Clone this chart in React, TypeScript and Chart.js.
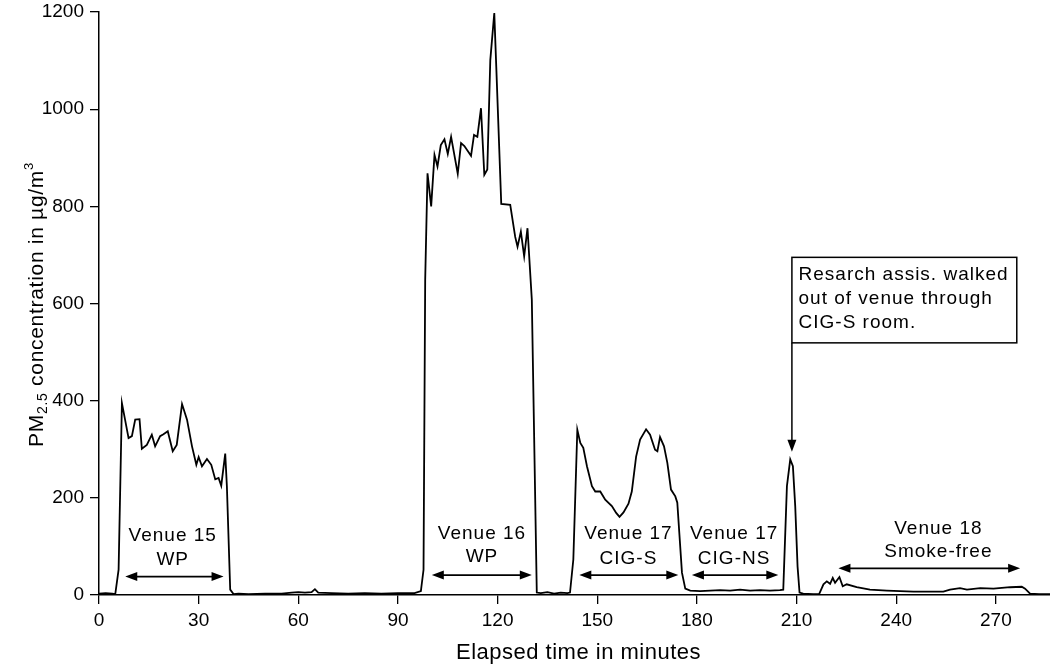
import React, { useEffect, useRef } from "react";
import { Chart, registerables } from "chart.js";

Chart.register(...registerables);

// ---------- axis ticks ----------
const xTickValues = [0, 30, 60, 90, 120, 150, 180, 210, 240, 270];
const yTickValues = [0, 200, 400, 600, 800, 1000, 1200];
const X_MAX = 286.3;
const Y_MAX = 1200;

// ---------- PM2.5 trace (elapsed minutes, µg/m3) ----------
const startTime = [0, 2, 4];
const startPm = [3, 4, 3];

const venue15Time = [4.9, 5.9, 6.9, 8.9, 9.9, 10.9, 12.2, 12.9, 14.4, 15.9, 16.9, 18.4, 19.4, 20.7, 22.2, 23.4, 25.0, 26.5, 28.0, 29.3, 30.0, 31.0, 32.5, 33.8, 35.0, 36.0, 36.8, 38.0, 38.5, 39.5, 40.5];
const venue15Pm = [2, 52, 395, 323, 327, 361, 362, 301, 309, 330, 306, 327, 331, 337, 296, 309, 393, 361, 306, 268, 284, 265, 280, 268, 238, 241, 225, 291, 224, 11, 2];

const gap1Time = [42, 45, 50, 55, 58, 60, 62, 64, 65, 66, 70, 75, 80, 85, 90, 95];
const gap1Pm = [3, 2, 3, 3, 5, 6, 5, 6, 12, 5, 4, 3, 4, 3, 4, 4];

const venue16Time = [96.9, 97.7, 98.2, 98.9, 100.0, 101.0, 101.9, 102.9, 104.0, 105.0, 106.0, 108.0, 109.0, 110.0, 112.0, 112.9, 113.9, 115.0, 116.0, 116.9, 117.8, 119.0, 119.6, 121.1, 123.8, 125.3, 126.0, 127.0, 128.0, 129.0, 130.3, 131.8];
const venue16Pm = [8, 52, 649, 868, 800, 906, 882, 926, 938, 908, 943, 867, 930, 924, 904, 947, 943, 1002, 865, 876, 1101, 1198, 1087, 805, 803, 737, 717, 748, 697, 755, 608, 5];

const gap2Time = [133, 135, 137, 139, 141];
const gap2Pm = [4, 6, 3, 5, 4];

const venue17sTime = [141.8, 142.8, 144.0, 144.9, 145.8, 146.9, 148.4, 149.4, 150.9, 152.4, 154.4, 155.7, 156.7, 157.9, 159.4, 160.4, 161.7, 162.9, 164.7, 165.9, 167.4, 168.1, 168.9, 170.1, 171.1, 172.2, 173.5, 174.1, 174.7, 175.5, 176.5];
const venue17sPm = [5, 73, 340, 313, 303, 265, 224, 213, 213, 196, 183, 169, 161, 170, 188, 213, 285, 320, 341, 330, 299, 296, 325, 306, 272, 217, 203, 190, 128, 46, 13];

const venue17nsTime = [178, 181, 184, 187, 190, 193, 196, 199, 202, 205, 206.0];
const venue17nsPm = [9, 8, 9, 10, 9, 11, 9, 10, 9, 10, 11];

const walkoutTime = [207.1, 208.1, 208.9, 209.6, 210.3, 210.9];
const walkoutPm = [224, 279, 265, 183, 59, 5];

const venue18Time = [212, 215, 216.8, 218.1, 219.1, 220.1, 220.9, 221.6, 222.9, 223.9, 225.1, 228.1, 232.1, 237.2, 245.2, 254.2, 256.2, 259.2, 261.3, 265.3, 269.3, 274.3, 277.8, 278.8, 280.3, 283, 286.3];
const venue18Pm = [3, 2, 2, 22, 28, 23, 35, 25, 37, 18, 22, 16, 11, 9, 7, 7, 11, 14, 11, 14, 13, 16, 17, 13, 3, 2, 2];

// ---------- annotations (in data units) ----------
const venueLine1 = ["Venue 15", "Venue 16", "Venue 17", "Venue 17", "Venue 18"];
const venueLine2 = ["WP", "WP", "CIG-S", "CIG-NS", "Smoke-free"];
const venueCenterT = [22.2, 115.3, 159.4, 191.2, 252.7];
const venueLine1V = [122, 127, 127, 127, 137];
const venueLine2V = [73, 78, 75, 75, 89];
const venueArrowStartT = [7.9, 100.2, 144.6, 178.5, 222.6];
const venueArrowEndT = [37.5, 130.3, 174.4, 204.5, 277.3];
const venueArrowV = [38, 41, 41, 41, 55];

const noteLines = ["Resarch assis. walked", "out of venue through", "CIG-S room."];
const noteLineV = [659, 609, 560];
const noteBoxT = [208.6, 276.3];
const noteBoxV = [519, 695];
const noteTextT = 210.6;
const noteArrowTipV = 295;

const FONT = '"Liberation Sans", Arial, Helvetica, sans-serif';

function buildPoints() {
  const t = [
    ...startTime, ...venue15Time, ...gap1Time, ...venue16Time, ...gap2Time,
    ...venue17sTime, ...venue17nsTime, ...walkoutTime, ...venue18Time,
  ];
  const v = [
    ...startPm, ...venue15Pm, ...gap1Pm, ...venue16Pm, ...gap2Pm,
    ...venue17sPm, ...venue17nsPm, ...walkoutPm, ...venue18Pm,
  ];
  return t.map((x, i) => ({ x, y: v[i] }));
}

function arrowHead(ctx: CanvasRenderingContext2D, tipX: number, tipY: number, dirX: number, dirY: number) {
  const len = 12;
  const half = 4.5;
  const bx = tipX - dirX * len;
  const by = tipY - dirY * len;
  const px = -dirY;
  const py = dirX;
  ctx.beginPath();
  ctx.moveTo(tipX, tipY);
  ctx.lineTo(bx + px * half, by + py * half);
  ctx.lineTo(bx - px * half, by - py * half);
  ctx.closePath();
  ctx.fill();
}

const annotationPlugin = {
  id: "pmAnnotations",
  afterDraw(chart: any) {
    const { ctx, chartArea } = chart;
    const xs = chart.scales.x;
    const ys = chart.scales.y;
    ctx.save();
    ctx.fillStyle = "#000";
    ctx.strokeStyle = "#000";
    (ctx as any).letterSpacing = "1px";
    ctx.font = `19px ${FONT}`;
    ctx.textAlign = "center";
    ctx.textBaseline = "middle";

    // venue labels with double arrows
    for (let i = 0; i < venueLine1.length; i++) {
      const cx = xs.getPixelForValue(venueCenterT[i]);
      ctx.fillText(venueLine1[i], cx, ys.getPixelForValue(venueLine1V[i]));
      ctx.fillText(venueLine2[i], cx, ys.getPixelForValue(venueLine2V[i]));
      const x1 = xs.getPixelForValue(venueArrowStartT[i]);
      const x2 = xs.getPixelForValue(venueArrowEndT[i]);
      const ay = ys.getPixelForValue(venueArrowV[i]);
      ctx.lineWidth = 1.8;
      ctx.beginPath();
      ctx.moveTo(x1 + 8, ay);
      ctx.lineTo(x2 - 8, ay);
      ctx.stroke();
      arrowHead(ctx, x1, ay, -1, 0);
      arrowHead(ctx, x2, ay, 1, 0);
    }

    // note box
    const bx1 = xs.getPixelForValue(noteBoxT[0]);
    const bx2 = xs.getPixelForValue(noteBoxT[1]);
    const by1 = ys.getPixelForValue(noteBoxV[1]);
    const by2 = ys.getPixelForValue(noteBoxV[0]);
    ctx.fillStyle = "#fff";
    ctx.fillRect(bx1, by1, bx2 - bx1, by2 - by1);
    ctx.fillStyle = "#000";
    ctx.lineWidth = 1.5;
    ctx.strokeRect(bx1, by1, bx2 - bx1, by2 - by1);
    ctx.textAlign = "left";
    const tx = xs.getPixelForValue(noteTextT);
    noteLines.forEach((line, i) => {
      ctx.fillText(line, tx, ys.getPixelForValue(noteLineV[i]));
    });
    // arrow from box down to the peak
    const tipY = ys.getPixelForValue(noteArrowTipV);
    ctx.lineWidth = 1.5;
    ctx.beginPath();
    ctx.moveTo(bx1, by2);
    ctx.lineTo(bx1, tipY - 8);
    ctx.stroke();
    arrowHead(ctx, bx1, tipY, 0, 1);

    // x axis title
    (ctx as any).letterSpacing = "0.5px";
    ctx.font = `22px ${FONT}`;
    ctx.textAlign = "center";
    ctx.textBaseline = "middle";
    ctx.fillText("Elapsed time in minutes", (chartArea.left + chartArea.right) / 2 + 4, 653);

    // y axis title with subscript / superscript
    const segs = [
      { text: "PM", size: 21, dy: 0 },
      { text: "2.5", size: 14, dy: 4 },
      { text: " concentration in µg/m", size: 21, dy: 0 },
      { text: "3", size: 13, dy: -10 },
    ];
    (ctx as any).letterSpacing = "0.7px";
    let total = 0;
    const widths = segs.map((s) => {
      ctx.font = `${s.size}px ${FONT}`;
      const w = ctx.measureText(s.text).width;
      total += w;
      return w;
    });
    ctx.translate(43, (chartArea.top + chartArea.bottom) / 2 + 1);
    ctx.rotate(-Math.PI / 2);
    ctx.textAlign = "left";
    ctx.textBaseline = "alphabetic";
    let cur = -total / 2;
    segs.forEach((s, i) => {
      ctx.font = `${s.size}px ${FONT}`;
      ctx.fillText(s.text, cur, s.dy);
      cur += widths[i];
    });
    ctx.restore();
  },
};

export default function App() {
  const canvasRef = useRef<HTMLCanvasElement | null>(null);

  useEffect(() => {
    const canvas = canvasRef.current;
    if (!canvas) return;
    const chart = new Chart(canvas, {
      type: "line",
      data: {
        datasets: [
          {
            data: buildPoints(),
            borderColor: "#000",
            borderWidth: 1.8,
            pointRadius: 0,
            tension: 0,
            fill: false,
          },
        ],
      },
      options: {
        animation: false,
        responsive: false,
        maintainAspectRatio: false,
        layout: { padding: { top: 12, right: 0, bottom: 0, left: 0 } },
        plugins: {
          legend: { display: false },
          tooltip: { enabled: false },
        },
        scales: {
          x: {
            type: "linear",
            min: 0,
            max: X_MAX,
            afterBuildTicks: (s: any) => {
              s.ticks = xTickValues.map((value) => ({ value }));
            },
            afterFit: (s: any) => {
              s.height = 72;
              s.paddingLeft = 0;
              s.paddingRight = 0;
            },
            grid: {
              drawOnChartArea: false,
              drawTicks: true,
              tickLength: 9,
              color: "#000",
              lineWidth: 1.3,
            },
            border: { display: true, color: "#000", width: 1.5 },
            ticks: {
              color: "#000",
              font: { family: FONT, size: 19 },
              padding: 5,
              maxRotation: 0,
              autoSkip: false,
              callback: (v: any) => String(v),
            },
          },
          y: {
            type: "linear",
            min: 0,
            max: Y_MAX,
            afterBuildTicks: (s: any) => {
              s.ticks = yTickValues.map((value) => ({ value }));
            },
            afterFit: (s: any) => {
              s.width = 99;
              s.paddingTop = 0;
              s.paddingBottom = 0;
            },
            grid: {
              drawOnChartArea: false,
              drawTicks: true,
              tickLength: 9,
              color: "#000",
              lineWidth: 1.3,
            },
            border: { display: true, color: "#000", width: 1.5 },
            ticks: {
              color: "#000",
              font: { family: FONT, size: 19 },
              padding: 6,
              autoSkip: false,
              callback: (v: any) => String(v),
            },
          },
        },
      },
      plugins: [annotationPlugin],
    });
    return () => chart.destroy();
  }, []);

  return (
    <div style={{ position: "absolute", left: 0, top: 0, width: 1050, height: 667, background: "#fff" }}>
      <canvas ref={canvasRef} width={1050} height={667} style={{ display: "block" }} />
    </div>
  );
}
